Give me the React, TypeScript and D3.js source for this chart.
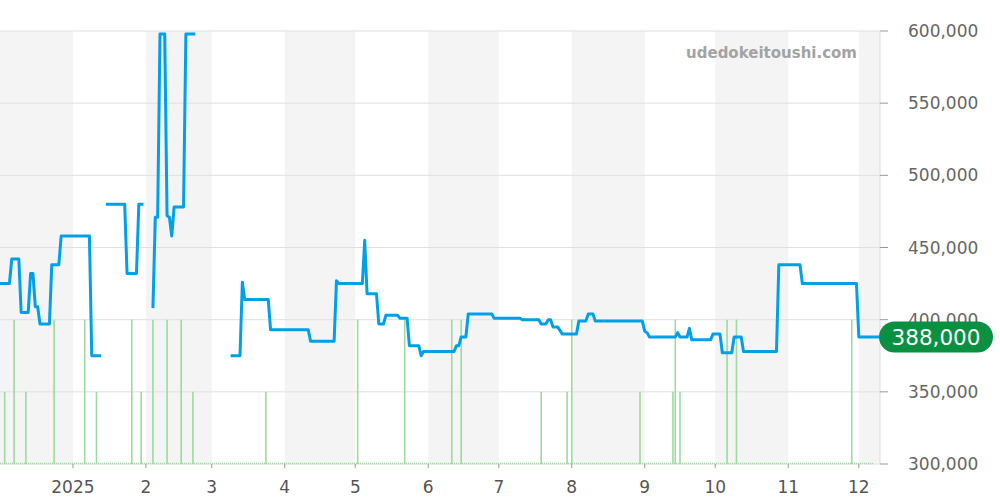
import React from "react";
import * as d3 from "d3";

const priceDates: string[] = [
  "2024-12-01","2024-12-05","2024-12-06","2024-12-09","2024-12-10","2024-12-13","2024-12-14","2024-12-15",
  "2024-12-16","2024-12-17","2024-12-18","2024-12-22","2024-12-23","2024-12-26","2024-12-27","2025-01-08",
  "2025-01-09","2025-01-13","2025-01-14",
  "2025-01-15","2025-01-23","2025-01-24","2025-01-28","2025-01-29","2025-01-31","2025-02-01",
  "2025-02-04","2025-02-05","2025-02-06","2025-02-07","2025-02-09","2025-02-10","2025-02-11","2025-02-12",
  "2025-02-13","2025-02-17","2025-02-18","2025-02-22","2025-02-23",
  "2025-03-09","2025-03-13","2025-03-14","2025-03-15","2025-03-25","2025-03-26","2025-04-11","2025-04-12",
  "2025-04-22","2025-04-23","2025-04-24","2025-05-04","2025-05-05","2025-05-06","2025-05-10","2025-05-11",
  "2025-05-13","2025-05-14","2025-05-19","2025-05-20","2025-05-23","2025-05-24","2025-05-28","2025-05-29",
  "2025-05-30","2025-06-12","2025-06-13","2025-06-14","2025-06-15","2025-06-17","2025-06-18","2025-06-28",
  "2025-06-29","2025-07-10","2025-07-11","2025-07-18","2025-07-19","2025-07-21","2025-07-22","2025-07-23",
  "2025-07-24","2025-07-26","2025-07-28","2025-08-03","2025-08-04","2025-08-07","2025-08-08","2025-08-10",
  "2025-08-11","2025-08-31","2025-09-01","2025-09-02","2025-09-03","2025-09-14","2025-09-15","2025-09-16",
  "2025-09-19","2025-09-20","2025-09-21","2025-09-29","2025-09-30","2025-10-03","2025-10-04","2025-10-08",
  "2025-10-09","2025-10-12","2025-10-13","2025-10-27","2025-10-28","2025-11-06","2025-11-07","2025-11-30",
  "2025-12-01","2025-12-10",
];

const priceValues: (number | null)[] = [
  425000,425000,442000,442000,405000,405000,432000,432000,
  409000,409000,397000,397000,438000,438000,458000,458000,
  375000,375000,null,
  480000,480000,432000,432000,480000,480000,null,
  408000,471000,471000,598000,598000,472000,471000,458000,
  478000,478000,598000,598000,null,
  375000,375000,426000,414000,414000,393000,393000,385000,
  385000,427000,425000,425000,455000,418000,418000,397000,
  397000,403000,403000,401000,401000,382000,382000,375000,
  378000,378000,382000,382000,388000,388000,404000,404000,
  401000,401000,400000,400000,397000,397000,400000,400000,
  395000,395000,390000,390000,399000,399000,404000,404000,
  399000,399000,392000,391000,388000,388000,391000,388000,
  388000,394000,386000,386000,390000,390000,377000,377000,
  388000,388000,378000,378000,438000,438000,425000,425000,
  388000,388000,
];

const volumeDates: string[] = [
  "2024-12-03","2024-12-07","2024-12-12","2024-12-24","2025-01-06","2025-01-11","2025-01-26","2025-01-30",
  "2025-02-04","2025-02-10","2025-02-16","2025-02-21","2025-03-24","2025-05-02","2025-05-22","2025-06-11",
  "2025-06-15","2025-07-19","2025-07-30","2025-08-01","2025-08-30","2025-09-13","2025-09-14","2025-09-16",
  "2025-10-06","2025-10-10","2025-11-28",
];
const volumeCounts: number[] = [
  1,2,1,2,2,1,2,1,
  2,2,2,1,1,2,2,2,
  2,1,1,2,1,1,2,1,
  2,2,2,
];

const yTicks: number[] = [300000, 350000, 400000, 450000, 500000, 550000, 600000];
const lastPrice = 388000;
const watermark = "udedokeitoushi.com";

const parse = d3.timeParse("%Y-%m-%d");

export default function App() {
  const W = 1000, H = 500;
  const left = 0, right = 880, top = 31, bottom = 464;
  const x = d3.scaleTime()
    .domain([parse("2024-12-01")!, parse("2025-12-10")!])
    .range([left, right]);
  const y = d3.scaleLinear().domain([300000, 600000]).range([bottom, top]);
  const yCount = d3.scaleLinear().domain([0, 6]).range([bottom, top]);

  const pts = priceDates.map((d, i) => ({ date: parse(d)!, v: priceValues[i] }));
  const line = d3.line<{ date: Date; v: number | null }>()
    .defined((d) => d.v !== null)
    .x((d) => x(d.date))
    .y((d) => y(d.v as number));

  const months = d3.timeMonth.range(parse("2024-12-01")!, parse("2025-12-11")!);
  const ticks = d3.timeMonth.range(parse("2025-01-01")!, parse("2025-12-02")!);
  const fmt = d3.format(",");
  const font = "DejaVu Sans, sans-serif";
  const pillY = y(lastPrice);

  return (
    <svg width={W} height={H} style={{ position: "absolute", left: 0, top: 0, background: "#fff" }} fontFamily={font}>
      {months.map((m, i) => {
        if (m.getMonth() % 2 === 0) return null;
        const x0 = x(m);
        const x1 = Math.min(x(d3.timeMonth.offset(m, 1)), right);
        return <rect key={i} x={x0} y={top} width={x1 - x0} height={bottom - top} fill="#f4f4f4" />;
      })}
      {yTicks.map((t) => (
        <line key={t} x1={left} x2={right} y1={y(t)} y2={y(t)} stroke="#e0e0e0" strokeWidth={1} />
      ))}
      <line x1={right} x2={right} y1={top} y2={bottom} stroke="#dddddd" strokeWidth={1} />
      {volumeDates.map((d, i) => {
        const xx = x(parse(d)!);
        return (
          <line key={i} x1={xx} x2={xx} y1={yCount(volumeCounts[i])} y2={bottom}
            stroke="#9dd9a0" strokeWidth={1.6} />
        );
      })}
      <line x1={left} x2={right - 6} y1={bottom - 0.5} y2={bottom - 0.5} stroke="#9dd9a0"
        strokeWidth={1.5} strokeDasharray="1 1" />
      <path d={line(pts) || ""} fill="none" stroke="#00a0e9" strokeWidth={3}
        strokeLinejoin="round" strokeLinecap="butt" />
      {ticks.map((t, i) => {
        const xx = x(t);
        return (
          <g key={i}>
            <line x1={xx} x2={xx} y1={bottom} y2={bottom + 4} stroke="#999" strokeWidth={1} />
            <text x={xx} y={493} textAnchor="middle" fontSize={17} fill="#555">
              {t.getMonth() === 0 ? String(t.getFullYear()) : String(t.getMonth() + 1)}
            </text>
          </g>
        );
      })}
      {yTicks.map((t) => (
        <g key={"y" + t}>
          <line x1={right} x2={right + 8} y1={y(t)} y2={y(t)} stroke="#999" strokeWidth={1} />
          <text x={908} y={y(t)} dy="0.36em" fontSize={17} fill="#666">{fmt(t)}</text>
        </g>
      ))}
      <rect x={879} y={pillY - 15.5} width={114} height={31} rx={15.5} fill="#0a9040" />
      <text x={936} y={pillY} dy="0.36em" textAnchor="middle" fontSize={21.5} fill="#fff">{fmt(lastPrice)}</text>
      <text x={857} y={58} textAnchor="end" fontSize={15} fontWeight="bold" fill="#a3a3a3">{watermark}</text>
    </svg>
  );
}
